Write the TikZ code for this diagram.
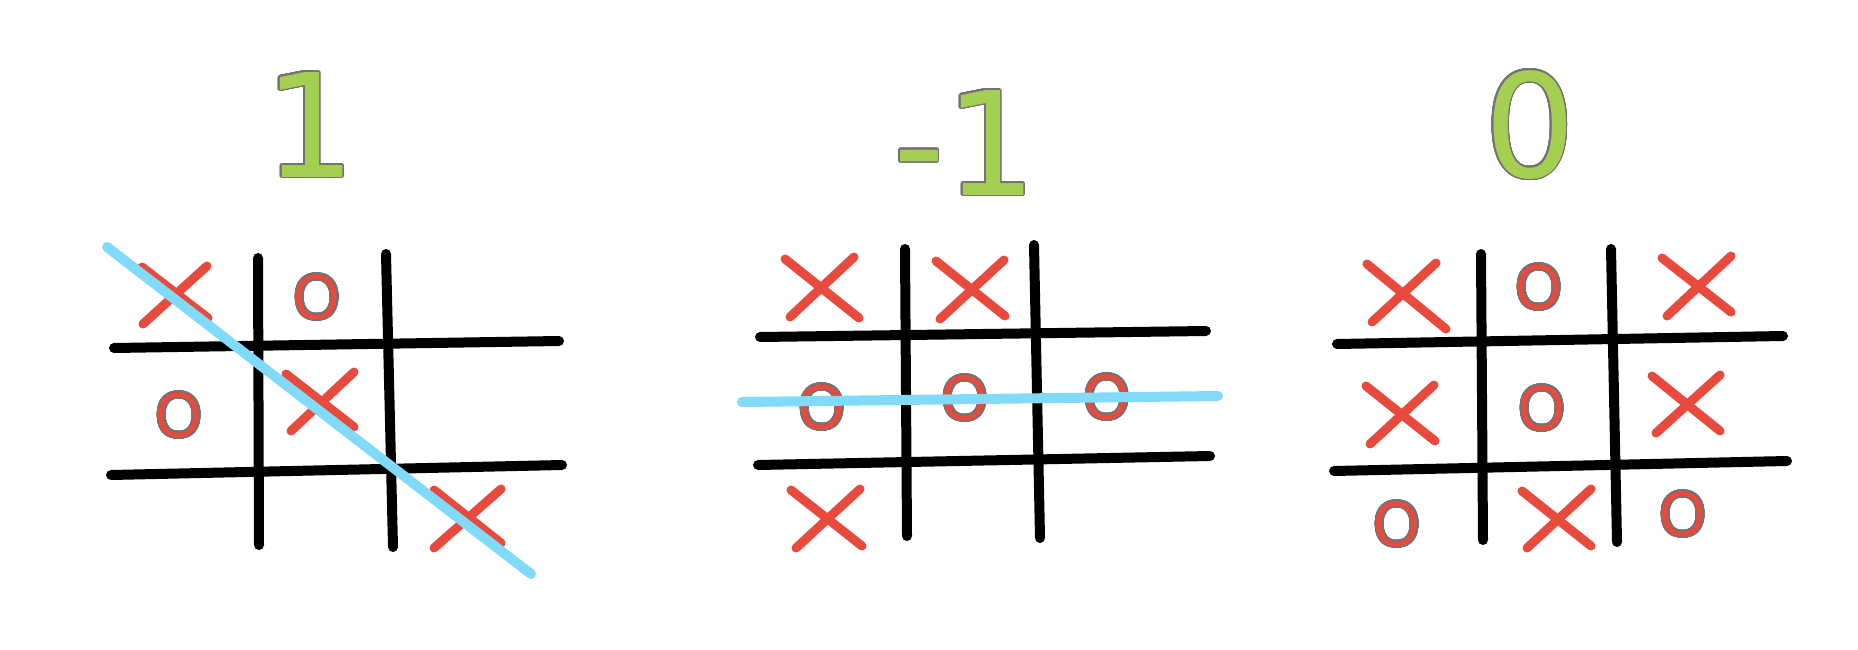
\documentclass[tikz,border=0pt]{standalone}
\usepackage{graphicx}
\usepackage{fontspec}
\usepackage[copies]{contour}
\setmainfont{DejaVu Sans}
\newfontfamily\markfont{Liberation Sans}
\definecolor{scoregreen}{RGB}{165,207,80}
\definecolor{outlinegray}{RGB}{115,115,115}
\definecolor{markred}{RGB}{232,74,62}
\definecolor{winblue}{RGB}{128,218,248}
\contournumber{32}
\newcommand{\outlined}[3]{\contourlength{#1}\contour{outlinegray}{\textcolor{#2}{#3}}}
\newcommand{\omk}{\scalebox{0.93}[1]{\outlined{1.5pt}{markred}{O}}}
\tikzset{
  gridline/.style={line width=10pt, line cap=round, black},
  xstroke/.style={line width=9pt, line cap=round, markred},
  winline/.style={line width=10pt, line cap=round, winblue},
  score/.style={inner sep=0pt, anchor=base, font=\fontsize{144}{150}\selectfont},
  omark/.style={inner sep=0pt, anchor=center, font=\markfont\fontsize{64}{70}\selectfont},
}
\begin{document}
\begin{tikzpicture}[x=1pt,y=-1pt]
\useasboundingbox[fill=white] (0,0) rectangle (1858,650);

% ---------- scores ----------
\node[score] (s1) at (310,177) {\outlined{1.4pt}{scoregreen}{1}};
\node[score] (s2) at (965,195) {\outlined{1.4pt}{scoregreen}{-1}};
\node[score] (s3) at (1530,177) {\outlined{1.4pt}{scoregreen}{0}};

% ---------- panel 1 ----------
\draw[gridline] (258,258) -- (259,545);
\draw[gridline] (386,254) -- (393,547);
\draw[gridline] (114,348) -- (559,341);
\draw[gridline] (111,475) -- (562,465);
\draw[xstroke] (143,324) -- (207,266);
\draw[xstroke] (142,267) -- (208,318);
\draw[xstroke] (291,431) -- (354,372);
\draw[xstroke] (286,374) -- (354,427);
\draw[xstroke] (434,548) -- (501,489);
\draw[xstroke] (434,490) -- (501,543);
\node[omark] (p1a) at (317,298) {\omk};
\node[omark] (p1b) at (179,416) {\omk};
\draw[winline] (107,247) -- (531,574);

% ---------- panel 2 ----------
\draw[gridline] (905,249) -- (907,536);
\draw[gridline] (1034,245) -- (1040,538);
\draw[gridline] (760,337) -- (1206,331);
\draw[gridline] (758,465) -- (1210,456);
\draw[xstroke] (790,317) -- (854,257);
\draw[xstroke] (785,259) -- (859,318);
\draw[xstroke] (940,319) -- (1004,260);
\draw[xstroke] (936,261) -- (1005,316);
\draw[xstroke] (796,548) -- (860,489);
\draw[xstroke] (791,490) -- (862,546);
\node[omark] (p2a) at (822,408) {\omk};
\node[omark] (p2b) at (965,399) {\omk};
\node[omark] (p2c) at (1107,398) {\omk};
\draw[winline] (742,402) -- (1218,396);

% ---------- panel 3 ----------
\draw[gridline] (1481,254) -- (1483,540);
\draw[gridline] (1611,249) -- (1617,542);
\draw[gridline] (1337,344) -- (1783,336);
\draw[gridline] (1334,471) -- (1787,461);
\draw[xstroke] (1372,322) -- (1436,263);
\draw[xstroke] (1367,264) -- (1446,329);
\draw[xstroke] (1667,316) -- (1731,256);
\draw[xstroke] (1662,258) -- (1731,312);
\draw[xstroke] (1370,444) -- (1434,385);
\draw[xstroke] (1366,386) -- (1435,441);
\draw[xstroke] (1656,433) -- (1720,375);
\draw[xstroke] (1652,376) -- (1720,431);
\draw[xstroke] (1527,548) -- (1591,489);
\draw[xstroke] (1522,491) -- (1591,546);
\node[omark] (p3a) at (1539,288) {\omk};
\node[omark] (p3b) at (1542,409) {\omk};
\node[omark] (p3c) at (1397,525) {\omk};
\node[omark] (p3d) at (1683,515) {\omk};
\end{tikzpicture}
\end{document}
